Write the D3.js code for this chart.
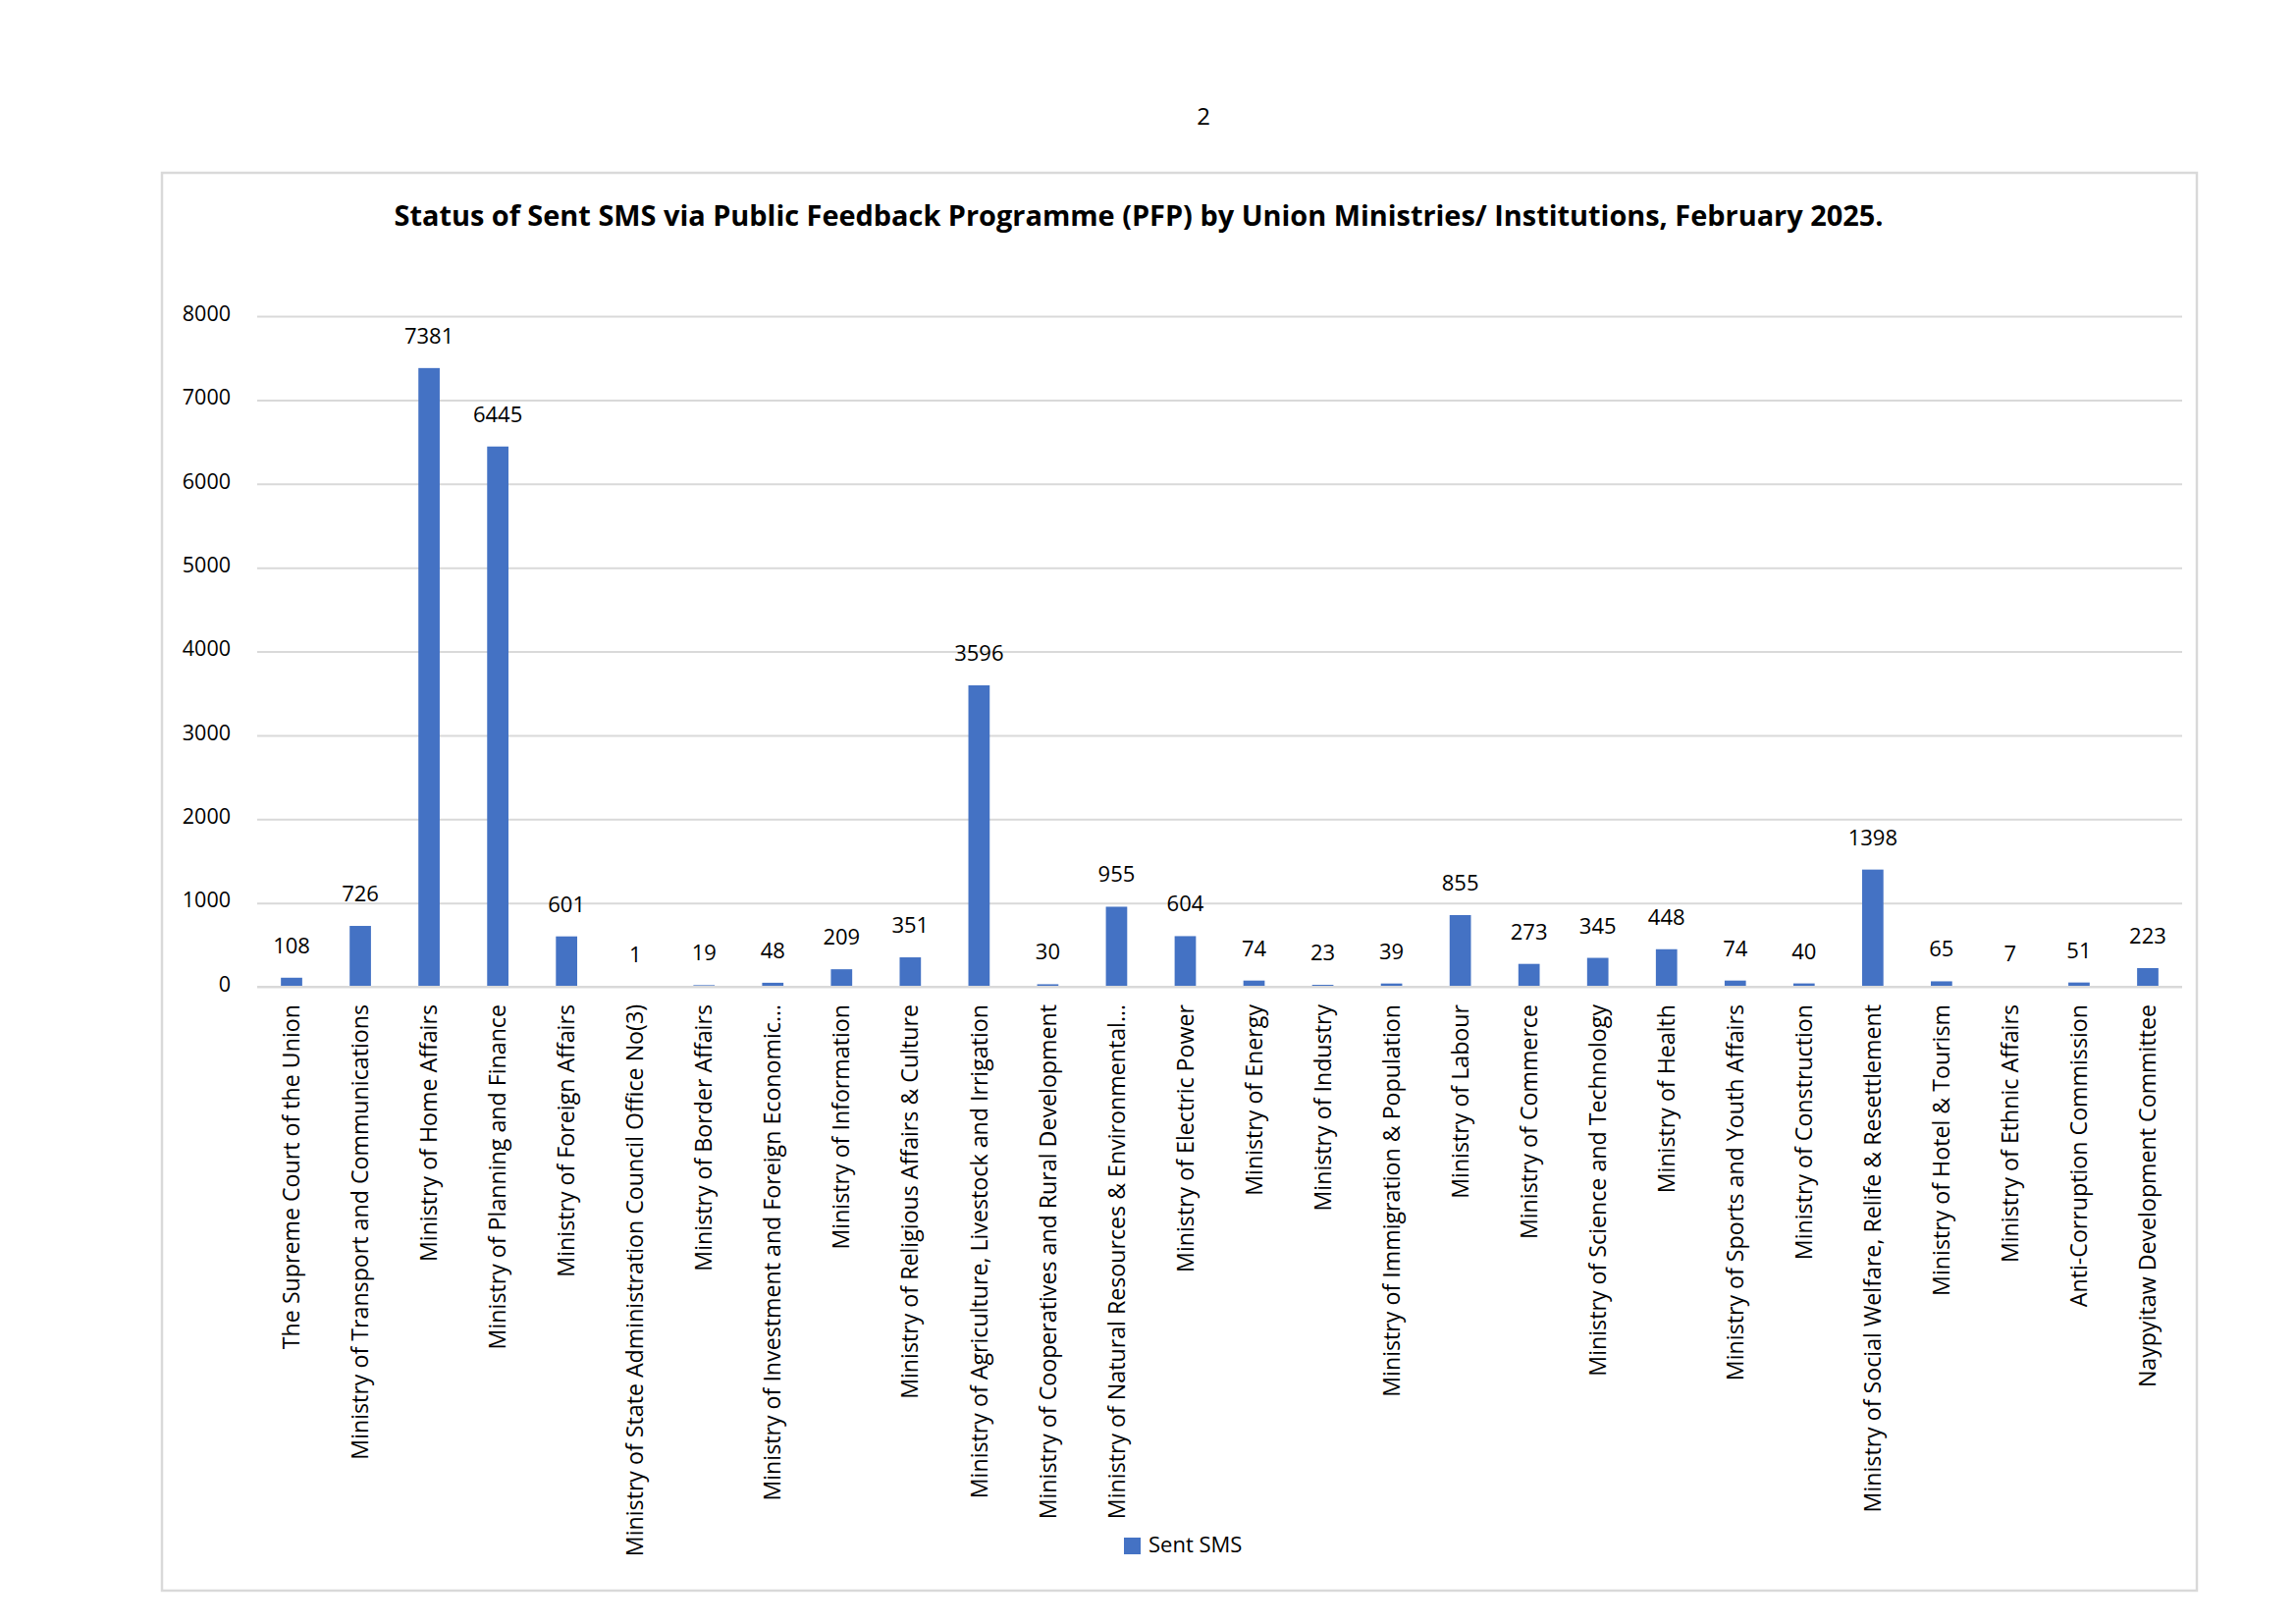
<!DOCTYPE html>
<html>
<head>
<meta charset="utf-8">
<script src="https://cdn.jsdelivr.net/npm/d3@7"></script>
<style>
  body { margin: 0; background: #fff; }
  svg text { font-family: "Open Sans", "Noto Sans", sans-serif; fill: #000; }
</style>
</head>
<body>
<svg id="chart" width="2339" height="1654"></svg>
<script>
// categories (x axis)
var ministries = [
    "The Supreme Court of the Union",
    "Ministry of Transport and Communications",
    "Ministry of Home Affairs",
    "Ministry of Planning and Finance",
    "Ministry of Foreign Affairs",
    "Ministry of State Administration Council Office No(3)",
    "Ministry of Border Affairs",
    "Ministry of Investment and Foreign Economic…",
    "Ministry of Information",
    "Ministry of Religious Affairs & Culture",
    "Ministry of Agriculture, Livestock and Irrigation",
    "Ministry of Cooperatives and Rural Development",
    "Ministry of Natural Resources & Environmental…",
    "Ministry of Electric Power",
    "Ministry of Energy",
    "Ministry of Industry",
    "Ministry of Immigration & Population",
    "Ministry of Labour",
    "Ministry of Commerce",
    "Ministry of Science and Technology",
    "Ministry of Health",
    "Ministry of Sports and Youth Affairs",
    "Ministry of Construction",
    "Ministry of Social Welfare, Relife & Resettlement",
    "Ministry of Hotel & Tourism",
    "Ministry of Ethnic Affairs",
    "Anti-Corruption Commission",
    "Naypyitaw Development Committee"
]

// Sent SMS values
var sentSMS = [108, 726, 7381, 6445, 601, 1, 19, 48, 209, 351, 3596, 30, 955, 604,
    74, 23, 39, 855, 273, 345, 448, 74, 40, 1398, 65, 7, 51, 223]

var yTicks = [0, 1000, 2000, 3000, 4000, 5000, 6000, 7000, 8000]

var seriesName = "Sent SMS"
var chartTitle = "Status of Sent SMS via Public Feedback Programme (PFP) by Union Ministries/ Institutions, February 2025."

var data = ministries.map(function(m, i) {
    return { name: m, value: sentSMS[i] }
})

var font = "'Open Sans', 'Noto Sans', sans-serif"
var svg = d3.select("#chart")

// page number
svg.append("text")
    .attr("x", 1226)
    .attr("y", 127)
    .attr("text-anchor", "middle")
    .attr("font-size", 24)
    .text("2")

// chart frame
svg.append("rect")
    .attr("x", 165)
    .attr("y", 176)
    .attr("width", 2073)
    .attr("height", 1444)
    .attr("fill", "none")
    .attr("stroke", "#d9d9d9")
    .attr("stroke-width", 2.5)

//Title
svg.append("text")
    .attr("x", 1160)
    .attr("y", 230)
    .attr("text-anchor", "middle")
    .attr("font-size", 28.9)
    .attr("font-weight", "bold")
    .text(chartTitle)

var x = d3.scaleBand()
    .domain(ministries)
    .range([262, 2223])
    .paddingInner(0.69)
    .paddingOuter(0.345)

var y = d3.scaleLinear()
    .domain([0, 8000])
    .range([1005, 322])

// gridlines + y labels
var yAxis = svg.append("g")
    .attr("transform", "translate(262,0)")
    .call(d3.axisLeft(y)
        .tickValues(yTicks)
        .tickFormat(d3.format("d"))
        .tickSize(-1961)
        .tickPadding(27))

yAxis.select(".domain").remove()
yAxis.selectAll(".tick line")
    .attr("stroke", "#d9d9d9")
    .attr("stroke-width", 2)
yAxis.selectAll(".tick text")
    .attr("font-size", 21.5)
    .attr("font-family", font)
    .attr("dy", "0.2em")

//Bars
svg.append("g")
    .selectAll("rect")
    .data(data)
    .enter()
    .append("rect")
    .attr("x", function(d) { return x(d.name) })
    .attr("y", function(d) { return y(d.value) })
    .attr("width", x.bandwidth())
    .attr("height", function(d) { return y(0) - y(d.value) })
    .attr("fill", "#4472c4")

// value labels
svg.append("g")
    .selectAll("text")
    .data(data)
    .enter()
    .append("text")
    .attr("x", function(d) { return x(d.name) + x.bandwidth() / 2 })
    .attr("y", function(d) { return y(d.value) - 25 })
    .attr("text-anchor", "middle")
    .attr("font-size", 22)
    .text(function(d) { return d.value })

// category axis
var xAxis = svg.append("g")
    .attr("transform", "translate(0," + y(0) + ")")
    .call(d3.axisBottom(x).tickSize(0).tickPadding(0))

xAxis.select(".domain")
    .attr("stroke", "#d9d9d9")
    .attr("stroke-width", 2)
    .attr("d", "M262,0H2223")

xAxis.selectAll(".tick text")
    .attr("font-size", 23.2)
    .attr("font-family", font)
    .attr("text-anchor", "end")
    .attr("transform", "rotate(-90)")
    .attr("x", -18)
    .attr("y", 0)
    .attr("dy", "0.35em")

// legend
var legend = svg.append("g")
    .attr("transform", "translate(1145,1566)")

legend.append("rect")
    .attr("width", 17)
    .attr("height", 17)
    .attr("fill", "#4472c4")

legend.append("text")
    .attr("x", 25)
    .attr("y", 15)
    .attr("font-size", 22)
    .text(seriesName)
</script>
</body>
</html>
